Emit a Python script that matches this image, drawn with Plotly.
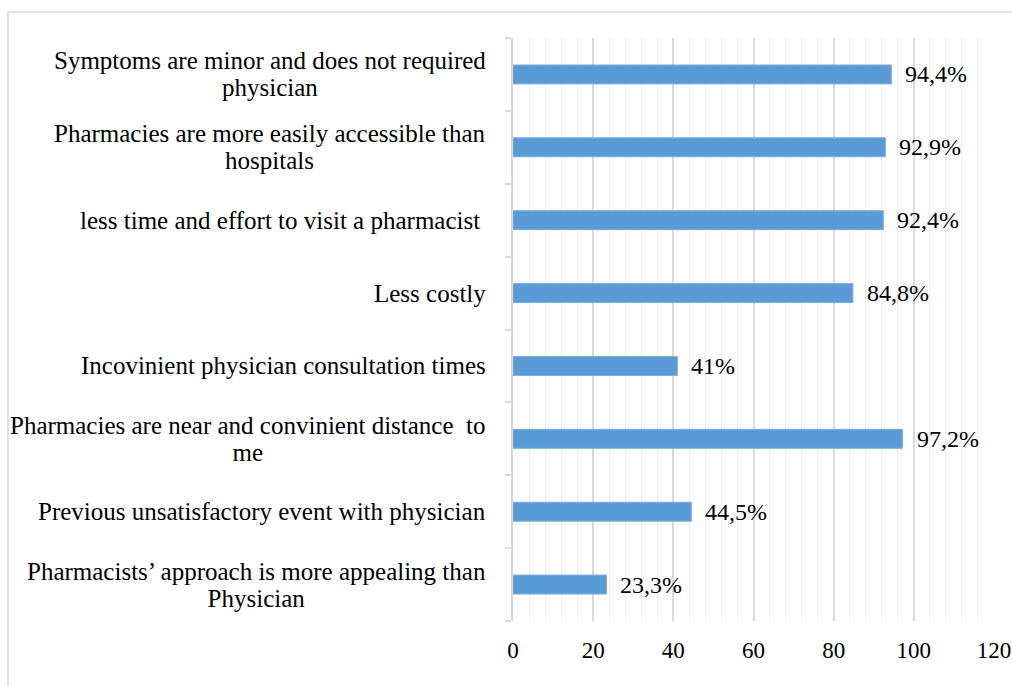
import plotly.graph_objects as go

categories = [
    "Symptoms are minor and does not required<br>physician",
    "Pharmacies are more easily accessible than<br>hospitals",
    "less time and effort to visit a pharmacist ",
    "Less costly",
    "Incovinient physician consultation times",
    "Pharmacies are near and convinient distance  to<br>me",
    "Previous unsatisfactory event with physician",
    "Pharmacists\u2019 approach is more appealing than<br>Physician",
]
values = [94.4, 92.9, 92.4, 84.8, 41, 97.2, 44.5, 23.3]
value_labels = ["94,4%", "92,9%", "92,4%", "84,8%", "41%", "97,2%", "44,5%", "23,3%"]
x_ticks = [0, 20, 40, 60, 80, 100, 120]

W, H = 1012, 686
L, R, T, B = 513, 17, 38, 65
pw, ph = W - L - R, H - T - B

def px_x(p):
    return (p - L) / pw

def px_y(p):
    return (H - B - p) / ph

FONT = "Liberation Serif, Times New Roman, serif"

fig = go.Figure()
fig.add_trace(go.Bar(
    y=list(range(len(categories))),
    x=values,
    orientation="h",
    width=0.26,
    marker=dict(color="#5b9bd5", line=dict(color="#7aaee0", width=1)),
    hoverinfo="skip",
))

annotations = []
for i, (c, v, lab) in enumerate(zip(categories, values, value_labels)):
    annotations.append(dict(
        x=v, y=i, xref="x", yref="y", text=lab, showarrow=False,
        xanchor="left", yanchor="middle", xshift=12,
        font=dict(family=FONT, size=24, color="#000000"),
    ))
    lines = c.split("<br>")
    txt = "<br>".join('<span style="font-size:25px">%s</span>' % ln for ln in lines)
    annotations.append(dict(
        x=px_x(488), y=i, xref="paper", yref="y", text=txt, showarrow=False,
        xanchor="right", yanchor="middle", align="center",
        font=dict(family=FONT, size=21, color="#000000"),
    ))

fig.update_layout(
    width=W, height=H,
    margin=dict(l=L, r=R, t=T, b=B, pad=0),
    paper_bgcolor="white", plot_bgcolor="white",
    showlegend=False,
    annotations=annotations,
    xaxis=dict(
        range=[0, 120.25], tickvals=x_ticks, ticktext=[str(t) for t in x_ticks],
        showgrid=True, gridcolor="#d9d9d9", gridwidth=1.5,
        minor=dict(dtick=4, showgrid=True, gridcolor="#eeeeee", gridwidth=1),
        zeroline=False, showline=False, ticks="",
        tickfont=dict(family=FONT, size=23, color="#000000"),
        ticklabeloverflow="allow", ticklabelstandoff=13,
        automargin=False, fixedrange=True,
    ),
    yaxis=dict(
        range=[len(categories) - 0.5, -0.5],
        tickmode="array", tickvals=[i - 0.5 for i in range(len(categories) + 1)],
        showticklabels=False,
        ticks="outside", ticklen=6, tickcolor="#d9d9d9", tickwidth=1.5,
        showgrid=False, zeroline=False,
        showline=True, linecolor="#d9d9d9", linewidth=1.5,
        automargin=False, fixedrange=True,
    ),
    shapes=[dict(
        type="rect", xref="paper", yref="paper",
        x0=px_x(8), x1=px_x(1030), y0=px_y(720), y1=px_y(12),
        line=dict(color="#d9d9d9", width=1.5), fillcolor="rgba(0,0,0,0)",
        layer="below",
    )],
)

fig.write_html("out.html")
